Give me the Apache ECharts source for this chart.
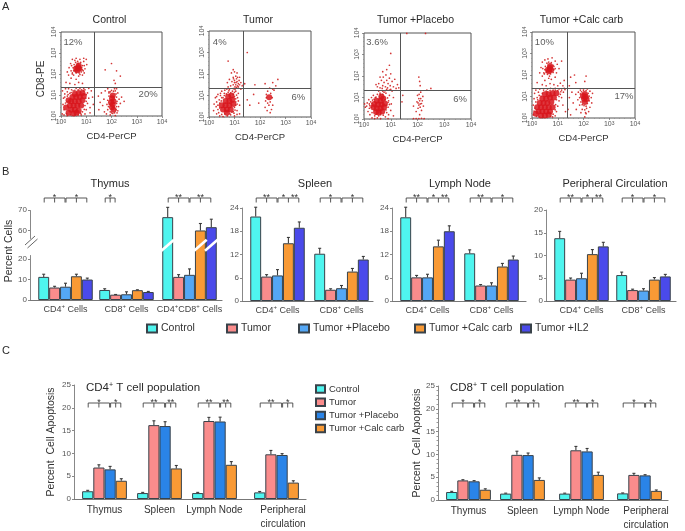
<!DOCTYPE html>
<html><head><meta charset="utf-8">
<style>html,body{margin:0;padding:0;background:#fff}#c{width:685px;height:531px}</style>
<script src="https://cdn.jsdelivr.net/npm/echarts@6/dist/echarts.min.js"></script>
</head><body><div id="c"></div>
<script>
// ---------- Panel A: flow cytometry, values are log10 of fluorescence ----------
const flowTitles = ['Control','Tumor','Tumor +Placebo','Tumor +Calc carb'];
const flowQuadX = [1.31,1.33,1.35,1.36];
const flowQuadY = [1.38,1.35,1.35,1.40];
const flowLabels = [
  [[.475,3.49,'12%'],[3.45,1.03,'20%']],
  [[.42,3.45,'4%'],[3.5,.92,'6%']],
  [[.49,3.55,'3.6%'],[3.59,.9,'6%']],
  [[.48,3.5,'10%'],[3.57,.99,'17%']]
];
const controlCore = [[.4,.3],[.55,.3],[.7,.25],[.35,.5],[.5,.5],[.65,.5],[.8,.5],[.4,.7],[.55,.7],[.7,.7],[.85,.75],[.45,.9],[.6,.9],[.75,.9],[.9,.95],[.55,1.05],[.7,1.1],[.85,1.1],[.3,.15],[.2,.4],[.5,.12],[.62,.15],[.3,.75],
  [.6,2.25],[.68,2.32],[.72,2.25],[.64,2.18],[.7,2.4],
  [2.02,.42],[2.05,.55],[2.08,.7],[2.02,.85],[2.05,.98],[2.08,.3],[1.98,.65]];
const controlDots = [[.05,.1],[.08,.55],[.1,.85],[.06,1.2],[.15,1.05],[.12,.3],[.18,1.3],[.25,1.15],[.3,1.3],[.42,1.25],[.6,1.32],[.75,1.3],[.95,1.25],[1.05,1.1],[1.1,.85],[1.05,.6],[1.15,.4],[1.0,.3],[.95,.1],[1.2,1.2],[1.25,.9],[1.15,.15],[.8,.05],[.25,.02],[1.28,.55],[1.1,1.32],
  [.2,1.6],[.35,1.55],[.55,1.5],[.7,1.6],[.85,1.55],[.6,1.75],[.4,1.8],[.3,1.95],[.25,2.1],[.32,2.3],[.38,2.5],[.4,2.15],[.45,2.7],[.55,2.65],[.6,2.75],[.75,2.7],[.9,2.75],[1.0,2.7],[1.02,2.45],[.95,2.25],[.92,2.05],[.85,1.95],[.7,1.9],[.5,1.95],[.45,2.0],[.9,2.6],[.85,2.2],
  [1.5,.3],[1.55,.65],[1.48,.95],[1.6,1.1],[1.65,.5],[1.7,.8],[1.72,.2],[1.75,1.2],[1.8,.1],[1.85,1.3],[1.82,.55],[1.9,1.15],[2.2,1.3],[2.25,1.1],[2.3,.8],[2.28,.45],[2.22,.15],[2.15,.02],[2.35,.6],[2.4,.9],[1.95,.05],[2.2,.6],[2.5,.7],[2.12,1.3],
  [2.0,2.5],[1.75,2.2],[2.2,2.15],[2.1,1.7],[2.15,1.55],[2.35,1.9],
  [.45,2.05],[.5,2.15],[.48,2.3],[.52,2.45],[.58,2.55],[.66,2.6],[.78,2.55],[.85,2.4],[.82,2.3],[.88,2.15],[.8,2.1],[.72,2.05],[.6,2.05],[.55,2.35],[.78,2.2],[.68,2.5],[.57,2.12],[.92,2.4],[.42,2.4],[.75,1.98],
  [1.85,.3],[1.88,.45],[1.85,.75],[1.9,.95],[1.9,1.1],[1.95,.2],[2.0,.15],[2.05,.12],[2.12,.15],[2.18,.3],[2.2,.45],[2.22,.7],[2.2,.9],[2.18,1.05],[2.15,1.2],[2.08,1.18],[2.0,1.22],[1.95,1.15],[1.92,.55],[2.25,.25],
  [.12,.05],[.18,.62],[.15,.9],[.22,.12],[.25,.95],[.28,1.02],[.35,1.08],[.4,1.12],[.48,1.2],[.55,1.22],[.68,1.25],[.82,1.25],[.9,1.2],[1.0,1.02],[.98,.85],[1.0,.7],[.95,.5],[.92,.32],[.85,.2],[.78,.12],[.38,.05],[.55,.03],[.68,.05],[.9,1.3],[.24,.68]];
const tumorCore = [[.55,.35],[.7,.35],[.85,.35],[.5,.55],[.65,.55],[.8,.55],[.95,.6],[.65,.75],[.8,.75],[.92,.8],[.75,.95],[.88,1.0],[.7,.2],[2.36,.92]];
const tumorDots = [[.18,.3],[.2,.6],[.25,.9],[.3,.15],[.3,.7],[.35,.35],[.35,1.05],[.4,.8],[.42,.05],[.45,1.0],[.5,.9],[.5,1.2],[.55,.02],[.6,1.1],[.62,1.25],[.7,1.3],[.72,.05],[.8,1.28],[.85,.1],[.95,.25],[.95,1.32],[1.0,.45],[1.05,.7],[1.05,1.2],[1.1,.3],[1.12,.9],[1.15,1.1],[1.2,.55],[1.25,1.3],[1.2,.15],[1.0,.05],
  [.85,1.45],[.95,1.5],[1.05,1.5],[1.12,1.45],[1.2,1.5],[.9,1.65],[1.0,1.7],[1.1,1.65],[1.18,1.7],[.95,1.85],[1.05,1.9],[1.12,1.85],[1.2,1.85],[.88,2.05],[1.0,2.1],[1.1,2.05],[1.25,1.6],[1.3,1.45],[.95,2.2],[.75,2.6],[.72,1.6],[.8,1.75],[1.02,1.4],[1.15,1.4],[1.35,1.5],[1.4,1.55],[.75,1.4],
  [1.5,.8],[1.6,.55],[1.75,1.05],[1.8,1.5],[1.95,.65],[2.2,.45],[2.22,.75],[2.25,1.05],[2.28,.3],[2.3,1.2],[2.35,.55],[2.4,.7],[2.42,1.1],[2.45,.35],[2.48,.9],[2.5,1.3],[2.25,.9],[2.38,1.35],[2.5,.55],[2.4,.2],[2.3,.65],[2.55,1.25],[2.62,1.45],[2.7,1.75],[2.2,1.55],[1.5,3.0],[2.5,1.6],
  [.35,.55],[.38,.2],[.42,.42],[.42,.65],[.48,.75],[.5,.12],[.55,.9],[.6,1.0],[.62,.15],[.68,1.08],[.75,1.15],[.82,.15],[.85,1.12],[.9,.22],[.95,1.05],[1.0,.95],[1.05,.55],[1.05,.85],[1.1,.6],[1.0,1.15],[.92,1.2],[.78,1.22],[1.08,1.02],[.98,.18],[.28,.48],[1.02,.32],[1.15,.75],[.45,1.1],[.3,.95],[1.1,.12],
  [.98,1.32],[1.08,1.38],[1.0,1.6],[1.06,1.6],[.96,1.78],[1.15,1.55],[1.08,1.78],[1.02,1.28]];
const placeboCore = [[.35,.55],[.48,.5],[.62,.5],[.75,.55],[.38,.7],[.52,.68],[.66,.68],[.78,.72],[.48,.85],[.62,.85],[.72,.95],[.55,.3],[.45,.32],[.65,1.05],[.68,.35]];
const placeboDots = [[.02,.7],[.05,.55],[.1,.6],[.12,.75],[.15,.35],[.18,.9],[.2,.5],[.22,.2],[.25,.8],[.28,1.0],[.3,.05],[.3,.3],[.35,1.1],[.4,.02],[.42,1.0],[.5,1.15],[.5,.05],[.6,1.2],[.62,.02],[.7,1.3],[.8,.1],[.82,1.2],[.85,.3],[.9,.55],[.92,.85],[.95,1.1],[1.0,.4],[1.02,.7],[1.05,1.3],[1.1,.15],[1.1,1.0],[.9,.02],
  [.5,1.5],[.55,1.65],[.6,1.45],[.65,1.8],[.7,1.55],[.72,1.95],[.75,1.7],[.8,1.5],[.82,2.05],[.85,1.8],[.88,1.45],[.9,1.65],[.95,1.9],[.98,1.55],[1.0,2.1],[1.05,1.75],[1.1,1.5],[1.15,1.85],[1.2,1.42],[.7,2.2],[.85,2.3],[.95,2.5],[1.0,3.05],[.6,1.95],[1.25,1.6],[.45,1.6],[1.3,1.45],
  [1.42,.8],[1.45,1.1],[1.85,.6],[1.95,.35],[1.98,.8],[2.0,1.1],[2.02,.5],[2.05,.95],[2.08,.2],[2.1,.7],[2.12,1.25],[2.15,.4],[2.18,.85],[2.2,1.05],[2.22,.6],[2.05,1.95],[2.08,1.75],[2.1,1.55],[2.5,1.42],[2.35,1.35],[1.85,.02],[1.95,.02],[2.05,.02],[2.15,.03],[2.25,.02],[2.3,3.98],[1.6,3.98],
  [.2,.7],[.22,.62],[.28,.55],[.3,.72],[.32,.88],[.38,.92],[.4,.15],[.45,.22],[.45,1.02],[.55,.15],[.58,1.02],[.62,.2],[.7,1.15],[.72,.18],[.78,.9],[.82,.42],[.85,.65],[.88,.98],[.9,.78],[.75,1.25],[.8,1.32],[.62,1.12],[.92,.2],[.95,.68],[.55,1.3],[.38,.42],[.85,1.38],[.95,1.35],[1.0,1.38],[.68,1.42],
  [2.02,.75],[2.05,.65],[2.08,.85],[2.1,.55],[2.12,.95],[2.06,1.15],[2.15,.72]];
const calcCore = [[.25,.3],[.4,.3],[.55,.3],[.7,.3],[.2,.5],[.35,.5],[.5,.5],[.65,.5],[.8,.5],[.3,.7],[.45,.7],[.6,.7],[.75,.75],[.4,.9],[.55,.9],[.7,.95],[.85,.95],[.5,1.1],[.65,1.1],[.8,1.15],[.95,1.15],[.35,.12],[.5,.12],[.65,.15],[.15,.2],
  [.62,2.25],[.7,2.32],[.74,2.25],[.66,2.18],[.7,2.42],
  [2.02,.9],[2.08,1.0],[2.05,1.12],[1.98,1.02],[2.12,.88],[2.05,.75]];
const calcDots = [[.05,.15],[.05,.6],[.08,.9],[.1,1.15],[.15,1.3],[.2,.95],[.25,1.2],[.3,1.35],[.45,1.3],[.6,1.35],[.72,1.38],[.9,1.38],[1.05,1.35],[1.15,1.3],[1.22,1.2],[1.1,1.1],[1.05,.8],[1.0,.55],[.95,.3],[.9,.1],[1.15,.95],[1.25,1.38],[.8,.05],[1.2,.6],[1.3,.3],
  [.2,1.65],[.4,1.55],[.55,1.5],[.7,1.6],[.85,1.55],[1.0,1.5],[.5,1.75],[.65,1.85],[.4,1.95],[.3,2.1],[.35,2.35],[.4,2.6],[.5,2.7],[.62,2.75],[.78,2.8],[.9,2.65],[.98,2.5],[1.05,2.3],[.95,2.1],[.9,1.9],[.75,1.8],[.48,2.05],[1.15,2.65],[1.2,1.5],[1.25,1.75],[1.1,1.62],[.85,2.4],
  [1.4,.4],[1.45,.95],[1.5,.15],[1.55,1.2],[1.6,.7],[1.7,1.1],[1.72,.4],[1.78,.85],[1.8,1.2],[1.85,.6],[1.88,1.3],[1.9,.25],[2.25,1.25],[2.3,.95],[2.32,.7],[2.25,.5],[2.2,.3],[2.12,.45],[2.1,.2],[2.05,.05],[1.95,.4],[2.35,1.15],[2.15,1.35],[2.0,1.35],[1.5,1.9],[1.7,1.65],[1.45,1.5],[2.1,1.95],[2.05,1.7],[1.65,2.0],
  [.46,2.1],[.5,2.25],[.52,2.4],[.58,2.55],[.65,2.6],[.75,2.58],[.82,2.45],[.85,2.25],[.82,2.12],[.72,2.05],[.6,2.03],[.55,2.12],[.9,2.3],[.42,2.3],[.68,1.95],
  [1.85,.95],[1.88,1.12],[1.9,.75],[1.92,1.22],[2.0,1.28],[2.1,1.28],[2.18,1.15],[2.22,1.02],[2.22,.8],[2.15,.68],[2.1,.55],[2.02,.58],[1.95,.62],[2.05,.38],[2.08,.25],
  [1.0,1.28],[.9,1.3],[.82,1.3],[.7,1.28],[.55,1.25],[.4,1.15],[.28,1.05],[.22,.85],[.15,.75],[.12,.45],[.08,.32],[.18,.08],[.28,.05],[.42,.03],[.58,.04],[.72,.08],[.82,.18],[.9,.38],[.92,.62],[.95,.85],[1.05,1.0],[1.12,1.22],[1.28,1.32],[.35,1.02],[.6,1.22]];
const flowCores = [controlCore,tumorCore,placeboCore,calcCore];
const flowDots = [controlDots,tumorDots,placeboDots,calcDots];
const flowBoxes = [[61,32,101,84],[209,31,102,86],[364,33,107,86],[532,32,103,86]];
const flowExp = [0,1,2,3,4];

// ---------- Panel B ----------
const treatments = ['Control','Tumor','Tumor +Placebo','Tumor +Calc carb','Tumor +IL2'];
const colorsB = ['#4ff5ef','#fa8c8c','#54a7f5','#f99a35','#4a4aea'];
const colorsC = ['#4ff5ef','#fa8c8c','#2a84e8','#f99a35'];
const thymusCats = ['CD4{s|+} Cells','CD8{s|+} Cells','CD4{s|+}CD8{s|+} Cells'];
const thymusTicks = [0,10,20,60,70];
const thymusMean = [[11.3,4.9,66.5],[6.1,2.6,11.3],[6.5,2.8,12.3],[11.6,4.8,60],[10,3.9,61.6]];
const thymusErr  = [[1.3,.6,4.8],[.6,.1,1.1],[1.7,1.2,2.9],[1,.2,3.4],[.7,.3,3.9]];
const twoCats = ['CD4{s|+} Cells','CD8{s|+} Cells'];
const spleenMean = [[21.8,12.2],[6.3,2.9],[6.6,3.3],[14.9,7.6],[18.9,10.7]];
const spleenErr  = [[2.4,1.4],[.5,.25],[1.5,.7],[1.5,.8],[1.5,.8]];
const lymphMean = [[21.6,12.3],[6.1,4.0],[6.1,4.0],[14.1,8.9],[18,10.7]];
const lymphErr  = [[2.6,.9],[.5,.25],[.8,.7],[1.6,.8],[1.4,.9]];
const periMean = [[13.8,5.7],[4.7,2.4],[5.0,2.3],[10.3,4.7],[12,5.4]];
const periErr  = [[1.5,.65],[.35,.2],[1.1,.4],[1,.45],[.9,.45]];
const thymusBrackets = [[0,0,2,'*'],[0,2,4,'*'],[1,0,1,'*'],[2,0,2,'**'],[2,2,4,'**']];
const spleenBrackets = [[0,0,2,'**'],[0,2,4,'*|**'],[1,0,2,'*'],[1,2,4,'*']];
const lymphBrackets  = [[0,0,2,'**'],[0,2,4,'*|**'],[1,0,2,'**'],[1,2,4,'*']];
const periBrackets   = [[0,0,2,'**'],[0,2,4,'*|**'],[1,0,2,'*'],[1,2,4,'*']];
const thymusSlashes = [[2,0],[2,3],[2,4]];

// ---------- Panel C ----------
const organCats = ['Thymus','Spleen','Lymph Node','Peripheral\ncirculation'];
const cd4Mean = [[1.7,1.3,1.3,1.45],[6.9,16.2,17.1,9.8],[6.5,16,17,9.65],[4,6.7,7.5,3.6]];
const cd4Err  = [[.2,.15,.15,.2],[.6,.95,.8,.85],[.65,.95,.95,.3],[.45,.65,.7,.4]];
const cd8Mean = [[1.75,1.4,1.4,1.45],[4.3,9.9,10.9,5.5],[4.1,9.85,10.65,5.4],[2.25,4.4,5.5,2]];
const cd8Err  = [[.15,.1,.1,.1],[.15,.8,.85,.35],[.15,.45,.65,.15],[.2,.45,.6,.2]];
const cd4Brackets = [[0,0,2,'*'],[0,2,3,'*'],[1,0,2,'**'],[1,2,3,'**'],[2,0,2,'**'],[2,2,3,'**'],[3,0,2,'**'],[3,2,3,'*']];
const cd8Brackets = [[0,0,2,'*'],[0,2,3,'*'],[1,0,2,'**'],[1,2,3,'*'],[2,0,2,'**'],[2,2,3,'*'],[3,0,2,'*'],[3,2,3,'*']];

const FONT = '"Liberation Sans", Arial, sans-serif';
const grid=[], xAxis=[], yAxis=[], series=[], title=[], legend=[], graphic=[];
const supRich = {s:{fontSize:6,verticalAlign:'top',fontFamily:FONT,color:'#444'}};

function addTitle(text,x,y,size,align,rich){
  title.push({text,left:x,top:y,padding:0,textAlign:align||'center',
    textStyle:{fontFamily:FONT,fontSize:size,fontWeight:'normal',color:'#2a2a2a',rich:rich||undefined}});
}
['A','B','C'].forEach((t,i)=>addTitle(t,2,[1,166,345][i],11,'left'));

// Panel A
flowTitles.forEach((name,i)=>{
  const b=flowBoxes[i], g=grid.length;
  grid.push({left:b[0],top:b[1],width:b[2],height:b[3],outerBoundsMode:'none',show:true,borderColor:'#555',borderWidth:1,backgroundColor:'#fff'});
  const expLabel=v=>flowExp.includes(v)?'10{e|'+v+'}':'';
  const rich={e:{fontSize:5,verticalAlign:'top',color:'#555',fontFamily:FONT}};
  xAxis.push({type:'value',gridIndex:g,min:0,max:4,interval:1,splitLine:{show:false},
    axisLine:{show:false},axisTick:{length:2,lineStyle:{color:'#666',width:.7}},minorTick:{show:true,splitNumber:5,length:1,lineStyle:{color:'#888',width:.6}},
    axisLabel:{fontSize:7,color:'#555',margin:3,fontFamily:FONT,formatter:expLabel,rich},
    name:'CD4-PerCP',nameLocation:'middle',nameGap:15,nameTextStyle:{fontSize:9.5,color:'#333',fontFamily:FONT}});
  yAxis.push({type:'value',gridIndex:g,min:0,max:4,interval:1,splitLine:{show:false},
    axisLine:{show:false},axisTick:{length:2,lineStyle:{color:'#666',width:.7}},minorTick:{show:true,splitNumber:5,length:1,lineStyle:{color:'#888',width:.6}},
    axisLabel:{fontSize:7,color:'#555',margin:3,rotate:90,fontFamily:FONT,formatter:expLabel,rich},
    name:i===0?'CD8-PE':'',nameLocation:'middle',nameGap:15,nameTextStyle:{fontSize:10,color:'#333',fontFamily:FONT,padding:[0,0,0,-10]}});
  series.push({type:'scatter',name:name+' core',xAxisIndex:g,yAxisIndex:g,data:flowCores[i],symbolSize:6,
    itemStyle:{color:'#d8151c',opacity:.85},silent:true,z:2,
    markLine:{silent:true,symbol:'none',animation:false,label:{show:false},lineStyle:{color:'#555',width:1,type:'solid'},
      data:[{xAxis:flowQuadX[i]},{yAxis:flowQuadY[i]}]}});
  series.push({type:'scatter',name:name+' events',xAxisIndex:g,yAxisIndex:g,data:flowDots[i],symbolSize:1.7,
    itemStyle:{color:'#cf2020',opacity:.9},silent:true,z:2});
  series.push({type:'scatter',name:name+' percent',xAxisIndex:g,yAxisIndex:g,
    data:flowLabels[i].map(r=>({value:[r[0],r[1]],label:{formatter:r[2]}})),symbolSize:0,silent:true,z:4,
    label:{show:true,position:'inside',fontSize:9.5,color:'#333',fontFamily:FONT}});
  addTitle(name,b[0]+b[2]/2-2,15,10.5);
});

// Bar panels
function barPanel(p){
  const g=grid.length;
  grid.push({left:p.left,top:p.top,width:p.width,height:p.height,outerBoundsMode:'none'});
  const slots=p.slots, bw=p.bw, n=p.mean.length;
  const cats=new Array(p.width).fill('').map((_,k)=>{
    const i=slots.indexOf(k);
    if(i<0) return '';
    return p.lastLabelPad&&i===slots.length-1 ? {value:p.cats[i],textStyle:{padding:[0,0,0,p.lastLabelPad]}} : p.cats[i];
  });
  xAxis.push({type:'category',gridIndex:g,data:cats,axisTick:{show:false},
    axisLine:{lineStyle:{color:'#777',width:1.2}},
    axisLabel:{interval:(k)=>slots.includes(k),showMinLabel:true,showMaxLabel:true,hideOverlap:false,fontSize:p.labelSize,color:p.labelColor||'#444',margin:p.labelMargin,lineHeight:14,fontFamily:FONT,rich:supRich}});
  const y={type:'value',gridIndex:g,min:0,max:p.max,interval:p.interval,splitLine:{show:false},
    axisLine:{show:true,lineStyle:{color:'#888'}},axisTick:{show:true,length:2,lineStyle:{color:'#888'}},
    axisLabel:{fontSize:8,color:'#555',margin:3,fontFamily:FONT},
    name:p.yName||'',nameLocation:'middle',nameGap:p.nameGap,nameTextStyle:{fontSize:10.5,color:'#333',fontFamily:FONT,padding:p.namePad||0}};
  if(p.breaks){y.breaks=p.breaks;y.breakArea={show:false};
    y.axisLabel.customValues=p.tickValues;y.axisTick.customValues=p.tickValues;}
  if(p.minor)y.minorTick={show:true,splitNumber:5,length:1.5,lineStyle:{color:'#999'}};
  yAxis.push(y);
  const names=treatments;
  p.mean.forEach((vals,t)=>{
    series.push({type:'bar',name:names[t],xAxisIndex:g,yAxisIndex:g,barWidth:bw,barGap:0,silent:true,
      data:vals.map((v,j)=>[slots[j],v]),
      itemStyle:{color:p.colors[t],borderColor:'#39424a',borderWidth:1},z:2});
    series.push({type:'custom',name:'err '+names[t],xAxisIndex:g,yAxisIndex:g,silent:true,z:3,
      encode:{x:0,y:1},
      data:vals.map((v,j)=>[slots[j],v,p.err[t][j]]),
      renderItem(params,api){
        const top=api.coord([api.value(0),api.value(1)+api.value(2)]);
        const base=api.coord([api.value(0),api.value(1)]);
        const x=top[0]+(t-(n-1)/2)*bw;
        const st={stroke:'#3a3a3a',lineWidth:1.1,fill:null};
        return {type:'group',children:[
          {type:'line',shape:{x1:x,y1:base[1],x2:x,y2:top[1]},style:st},
          {type:'line',shape:{x1:x-1.5,y1:top[1],x2:x+1.5,y2:top[1]},style:st}]};
      }});
  });
  const br=p.brackets;
  series.push({type:'custom',name:'significance',xAxisIndex:g,yAxisIndex:g,silent:true,z:5,
    data:br.map(r=>[slots[r[0]],0]),encode:{x:0,y:1},
    renderItem(params,api){
      const r=br[params.dataIndex];
      const cx=api.coord([slots[r[0]],0])[0];
      const pos=b=>cx+(b-(n-1)/2)*bw;
      const x1=pos(r[1])+.5,x2=pos(r[2])-.5,m=(x1+x2)/2,y=p.bracketY;
      const st={stroke:'#444',lineWidth:.9,fill:null};
      const kids=[{type:'polyline',shape:{points:[[x1,y+4.5],[x1,y],[x2,y],[x2,y+4.5]]},style:st},
        {type:'line',shape:{x1:m,y1:y,x2:m,y2:y+4.5},style:st}];
      const stars=r[3].split('|');
      stars.forEach((s,i)=>{
        const sx=stars.length===1?m:m+(i===0?-.45:.55)*bw;
        kids.push({type:'text',style:{x:sx,y:y-.5,text:s,fontSize:9,fontFamily:FONT,fill:'#333',align:'center',verticalAlign:'middle'}});
      });
      return {type:'group',children:kids};
    }});
  if(p.slashes){
    series.push({type:'custom',name:'bar break',xAxisIndex:g,yAxisIndex:g,silent:true,z:4,
      data:p.slashes.map(r=>[slots[r[0]],0]),encode:{x:0,y:1},
      renderItem(params,api){
        const r=p.slashes[params.dataIndex];
        const lo=api.coord([slots[r[0]],p.breaks[0].start]);
        const hi=api.coord([slots[r[0]],p.breaks[0].end]);
        const x=lo[0]+(r[1]-(n-1)/2)*bw,y=(lo[1]+hi[1])/2-1.5;
        return {type:'line',shape:{x1:x-bw*.58,y1:y+5.5,x2:x+bw*.58,y2:y-5.5},style:{stroke:'#fff',lineWidth:2.6}};
      }});
  }
}
const bBase={top:208,height:93,bw:10.9,labelSize:9,labelMargin:3,bracketY:198,colors:colorsB};
barPanel({...bBase,left:30,top:210,height:90,width:192,slots:[35,96,159],cats:thymusCats,mean:thymusMean,err:thymusErr,max:70,interval:10,tickValues:thymusTicks,
  breaks:[{start:22,end:56,gap:8}],brackets:thymusBrackets,slashes:thymusSlashes,yName:'Percent Cells',nameGap:4,namePad:[0,0,0,8]});
barPanel({...bBase,left:242,width:131,slots:[35,99],cats:twoCats,mean:spleenMean,err:spleenErr,max:24,interval:6,brackets:spleenBrackets});
barPanel({...bBase,left:392,width:134,slots:[35,99],cats:twoCats,mean:lymphMean,err:lymphErr,max:24,interval:6,brackets:lymphBrackets});
barPanel({...bBase,left:546,top:210,height:91,width:130,slots:[35,97],cats:twoCats,mean:periMean,err:periErr,max:20,interval:5,brackets:periBrackets});

const cBase={top:385,height:114,bw:11.2,labelSize:10,labelColor:'#333',labelMargin:4,bracketY:403,max:25,interval:5,colors:colorsC,cats:organCats,yName:'Percent  Cell Apoptosis',nameGap:17,lastLabelPad:13};
barPanel({...cBase,left:74,width:232,slots:[30,85,140,202],mean:cd4Mean,err:cd4Err,brackets:cd4Brackets});
barPanel({...cBase,left:438,top:386,width:230,nameGap:11,minor:true,slots:[30,84,143,201],mean:cd8Mean,err:cd8Err,brackets:cd8Brackets});

addTitle('Thymus',110,178,11);
addTitle('Spleen',315,178,11);
addTitle('Lymph Node',460,178,11);
addTitle('Peripheral Circulation',615,178,11);
const tRich={s:{fontSize:7,verticalAlign:'top',color:'#2a2a2a',fontFamily:FONT}};
addTitle('CD4{s|+} T cell population',86,382,11.5,'left',tRich);
addTitle('CD8{s|+} T cell population',450,382,11.5,'left',tRich);

// Legends
const legendLefts=[146,226,298,414,520];
treatments.forEach((t,i)=>legend.push({data:[t],left:legendLefts[i],top:323,itemWidth:10,itemHeight:8,itemGap:0,padding:0,selectedMode:false,icon:'rect',
  textStyle:{fontSize:10.5,color:'#333',fontFamily:FONT,padding:[0,0,0,-1]}}));
legend.push({orient:'vertical',left:315,top:384,itemWidth:9,itemHeight:7.5,itemGap:3.2,padding:0,selectedMode:false,icon:'rect',
  data:treatments.slice(0,4).map((t,i)=>({name:t,itemStyle:{color:colorsC[i]}})),
  textStyle:{fontSize:9.5,color:'#333',fontFamily:FONT,padding:[0,0,0,-1]}});

// Axis break mark on the thymus y axis
[[0,0],[2.5,3]].forEach(o=>graphic.push({type:'line',silent:true,z:10,
  shape:{x1:25+o[0],y1:248+o[1]-3,x2:35+o[0],y2:239+o[1]-3},style:{stroke:'#666',lineWidth:1}}));
graphic.push({type:'line',silent:true,z:9,shape:{x1:28,y1:246,x2:34,y2:241},style:{stroke:'#fff',lineWidth:1.6}});

const chart=echarts.init(document.getElementById('c'),null,{renderer:'canvas'});
chart.setOption({animation:false,backgroundColor:'#fff',title,grid,xAxis,yAxis,series,legend,graphic,tooltip:{show:false}});
</script></body></html>
